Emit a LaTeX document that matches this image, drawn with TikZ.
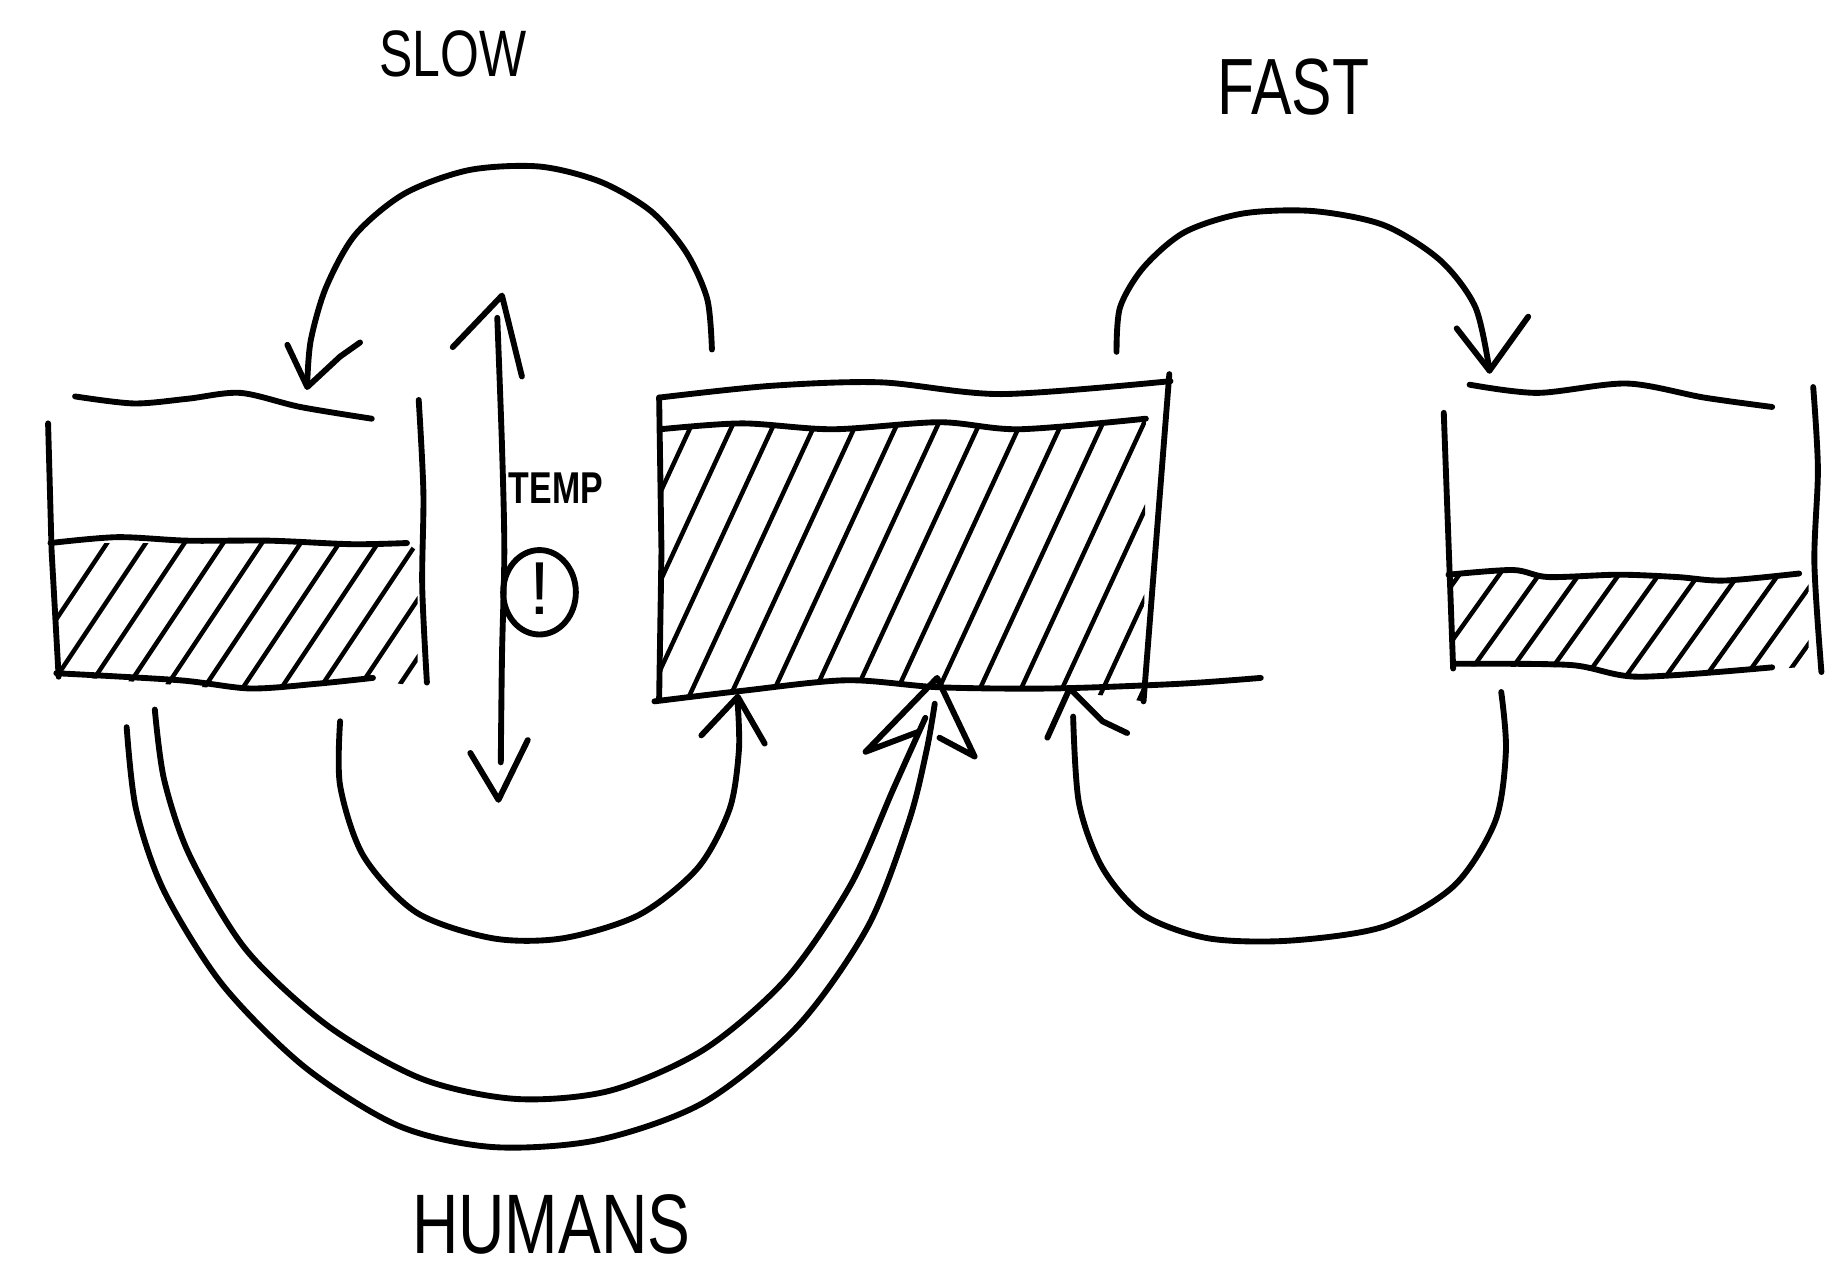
\documentclass[tikz,border=0pt]{standalone}
\usepackage{fontspec}
\setmainfont{Liberation Sans}
\newfontfamily\handfont[FakeStretch=0.76]{Liberation Sans}
\begin{document}
\begin{tikzpicture}[x=1pt,y=-1pt, line cap=round, line join=round,
  ink/.style={line width=5pt},
  hatchline/.style={line width=3.8pt},
  lbl/.style={inner sep=0pt, anchor=center}]
\useasboundingbox[fill=white] (0,0) rectangle (1568,1086);

% ---------- left reservoir ----------
\draw[ink] (41,361) -- (44,470) -- (50,577);
\draw[ink] plot[smooth] coordinates {(357,341) (361,420) (360,500) (364,582)};
\draw[ink] plot[smooth] coordinates {(64,338) (114,344) (160,340) (205,335) (256,347) (317,357)};
\draw[ink] plot[smooth] coordinates {(43,463) (100,458) (160,461) (230,461) (300,464) (347,463)};
\draw[ink] plot[smooth] coordinates {(48,574) (153,580) (213,587) (270,583) (318,578)};
\begin{scope}
  \clip (43,463) -- (347,463) -- (356,470) -- (356,585) -- (318,580) -- (213,589) -- (48,576) -- cycle;
  \foreach \x in {0,33,...,420} \draw[hatchline] (\x,600) -- ++(100,-150);
\end{scope}

% ---------- middle reservoir ----------
\draw[ink] (562,339) -- (564,470) -- (562,596);
\draw[ink] (997,319) -- (975,598);
\draw[ink] plot[smooth] coordinates {(562,339) (657,329) (751,326) (854,336) (998,325)};
\draw[ink] plot[smooth] coordinates {(563,366) (633,361) (710,366) (801,360) (869,366) (977,357)};
\draw[ink] plot[smooth] coordinates {(558,598) (633,589) (722,580) (801,586) (898,587) (1006,583) (1075,578)};
\begin{scope}
  \clip (563,366) -- (633,361) -- (710,366) -- (801,360) -- (869,366) -- (977,357) -- (975,598) -- (898,587) -- (801,586) -- (722,580) -- (633,589) -- (562,596) -- cycle;
  \foreach \x in {440,475,...,1000} \draw[hatchline] (\x,610) -- ++(125,-270);
\end{scope}

% ---------- right reservoir ----------
\draw[ink] (1231,352) -- (1239,570);
\draw[ink] plot[smooth] coordinates {(1546,330) (1550,400) (1547,480) (1553,573)};
\draw[ink] plot[smooth] coordinates {(1253,328) (1311,335) (1387,327) (1453,339) (1511,347)};
\draw[ink] plot[smooth] coordinates {(1235,490) (1290,486) (1320,492) (1380,490) (1430,492) (1470,495) (1534,489)};
\draw[ink] plot[smooth] coordinates {(1239,566) (1339,567) (1397,577) (1511,569)};
\begin{scope}
  \clip (1235,490) -- (1290,486) -- (1320,492) -- (1380,490) -- (1430,492) -- (1470,495) -- (1542,489) -- (1542,568) -- (1511,571) -- (1397,579) -- (1339,569) -- (1239,568) -- cycle;
  \foreach \x in {1180,1214,...,1560} \draw[hatchline] (\x,580) -- ++(80,-112);
\end{scope}

% ---------- slow: top arrow ----------
\draw[ink] plot[smooth] coordinates {(607,298) (603,255) (585,215) (555,180) (512,155) (460,142) (400,145) (345,165) (303,200) (278,245) (265,290) (262,326)};
\draw[ink] (245,294) -- (262,330) -- (290,304) -- (307,292);

% ---------- temperature double arrow ----------
\draw[ink] plot[smooth] coordinates {(424,271) (428,380) (430,470) (428,560) (427,650)};
\draw[ink] (386,296) -- (428,252) -- (445,321);
\draw[ink] (401,642) -- (425,682) -- (450,631);
\node[lbl] (temp) at (474,416) {\handfont\bfseries\fontsize{38}{38}\selectfont TEMP};
\draw[ink] (460,505) ellipse [x radius=31, y radius=36];
\node[lbl] (bang) at (460,502) {\fontsize{64}{64}\selectfont !};

% ---------- slow: inner bottom arrow ----------
\draw[ink] plot[smooth] coordinates {(290,615) (290,670) (310,730) (355,778) (420,800) (480,800) (545,780) (595,740) (622,690) (630,640) (629,600)};
\draw[ink] (598,627) -- (629,594) -- (652,634);

% ---------- humans: double arrow ----------
\draw[ink] plot[smooth] coordinates {(108,620) (116,690) (140,760) (190,840) (260,910) (340,960) (420,978) (510,972) (600,940) (680,875) (740,790) (775,700) (790,640) (797,600)};
\draw[ink] plot[smooth] coordinates {(132,605) (140,665) (162,730) (210,810) (280,875) (360,920) (440,937) (520,930) (600,895) (670,835) (725,755) (762,672) (789,612)};
\draw[ink] (783,624) -- (738,641) -- (799,578) -- (831,645) -- (801,629);

% ---------- fast: top arrow ----------
\draw[ink] plot[smooth] coordinates {(952,300) (955,262) (975,228) (1010,198) (1060,182) (1120,180) (1180,192) (1228,222) (1258,262) (1270,316)};
\draw[ink] (1242,280) -- (1270,316) -- (1303,270);

% ---------- fast: bottom arrow ----------
\draw[ink] plot[smooth] coordinates {(1280,590) (1284,640) (1275,700) (1240,755) (1180,790) (1100,802) (1030,800) (975,780) (940,740) (920,685) (915,611)};
\draw[ink] (893,629) -- (912,587) -- (940,615) -- (961,625);

% ---------- labels ----------
\node[lbl] (slow) at (386,46) {\handfont\fontsize{56}{56}\selectfont SLOW};
\node[lbl] (fast) at (1103,74) {\handfont\fontsize{68}{68}\selectfont FAST};
\node[lbl] (humans) at (470,1044) {\handfont\fontsize{72}{72}\selectfont HUMANS};
\end{tikzpicture}
\end{document}
